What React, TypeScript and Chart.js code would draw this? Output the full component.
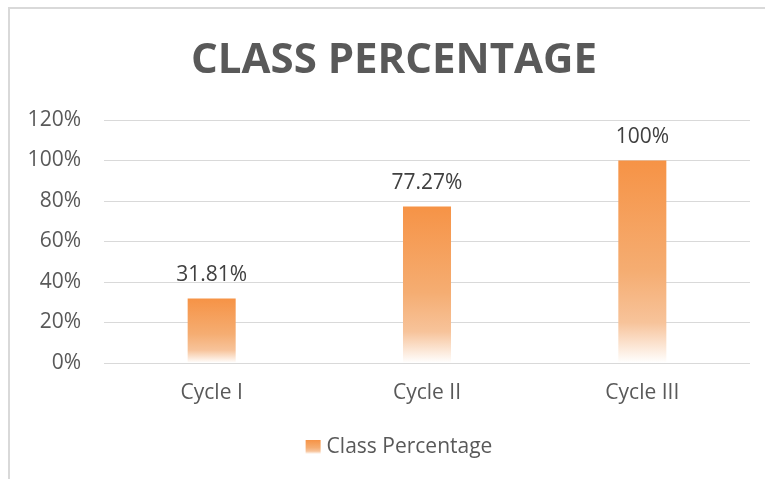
import React, { useEffect, useRef } from "react";
import { Chart, registerables } from "chart.js";

Chart.register(...registerables);

const categories = ["Cycle I", "Cycle II", "Cycle III"];
const classPercentage = [31.81, 77.27, 100];
const seriesName = "Class Percentage";
const chartTitle = "CLASS PERCENTAGE";
const yTicks = [0, 20, 40, 60, 80, 100, 120];

const FONT = "'Open Sans', sans-serif";
const TEXT = "#595959";

function makeGradient(ctx: CanvasRenderingContext2D, top: number, bottom: number) {
  const g = ctx.createLinearGradient(0, top, 0, bottom);
  g.addColorStop(0, "#F69346");
  g.addColorStop(0.55, "#F5AD72");
  g.addColorStop(0.8, "#F7C39A");
  g.addColorStop(1, "#FFFFFF");
  return g;
}

export default function App() {
  const ref = useRef<HTMLCanvasElement | null>(null);

  useEffect(() => {
    document.body.style.margin = "0";
    const canvas = ref.current!;

    const decorPlugin = {
      id: "decor",
      afterDraw(chart: any) {
        const ctx = chart.ctx;
        ctx.save();
        // title
        ctx.font = `bold 42px ${FONT}`;
        ctx.fillStyle = TEXT;
        ctx.textAlign = "center";
        ctx.textBaseline = "alphabetic";
        ctx.fillText(chartTitle, 394, 73);
        // legend
        ctx.font = `21px ${FONT}`;
        const tw = ctx.measureText(seriesName).width;
        const boxW = 15;
        const gap = 6;
        const total = boxW + gap + tw;
        const x0 = 399 - total / 2;
        ctx.fillStyle = makeGradient(ctx, 440, 454);
        ctx.fillRect(x0, 440, boxW, 14);
        ctx.fillStyle = TEXT;
        ctx.textAlign = "left";
        ctx.textBaseline = "middle";
        ctx.fillText(seriesName, x0 + boxW + gap, 447);
        ctx.restore();
      },
      afterDatasetsDraw(chart: any) {
        const ctx = chart.ctx;
        const meta = chart.getDatasetMeta(0);
        ctx.save();
        ctx.font = `21px ${FONT}`;
        ctx.fillStyle = "#404040";
        ctx.textAlign = "center";
        ctx.textBaseline = "alphabetic";
        meta.data.forEach((bar: any, i: number) => {
          ctx.fillText(`${classPercentage[i]}%`, bar.x, bar.y - 18);
        });
        ctx.restore();
      },
    };

    const chart = new Chart(canvas, {
      type: "bar",
      data: {
        labels: categories,
        datasets: [
          {
            label: seriesName,
            data: classPercentage,
            backgroundColor: (c: any) => {
              const ch = c.chart;
              if (!ch.chartArea || c.parsed == null || c.type !== "data") return "#F79646";
              const y = ch.scales.y;
              const top = y.getPixelForValue(c.parsed.y);
              const bottom = y.getPixelForValue(0);
              return makeGradient(ch.ctx, top, bottom);
            },
            borderWidth: 0,
            categoryPercentage: 1,
            barPercentage: 0.223,
          },
        ],
      },
      options: {
        animation: false,
        responsive: false,
        maintainAspectRatio: false,
        layout: { padding: { left: 10, right: 15, top: 120, bottom: 51.5 } },
        plugins: {
          title: { display: false },
          legend: { display: false },
          tooltip: { enabled: false },
        },
        scales: {
          x: {
            grid: { display: false, drawTicks: false },
            border: { display: false },
            ticks: { color: TEXT, font: { family: FONT, size: 21 }, padding: 17 },
            afterFit: (s: any) => {
              s.height = 64.5;
            },
          },
          y: {
            min: 0,
            max: 120,
            afterBuildTicks: (s: any) => {
              s.ticks = yTicks.map((v) => ({ value: v }));
            },
            grid: { color: "#D9D9D9", lineWidth: 1, drawTicks: false },
            border: { display: false },
            ticks: {
              color: TEXT,
              font: { family: FONT, size: 21 },
              padding: 23,
              callback: (v: any) => `${v}%`,
            },
            afterFit: (s: any) => {
              s.width = 94;
            },
          },
        },
      },
      plugins: [decorPlugin],
    });

    return () => chart.destroy();
  }, []);

  return (
    <div style={{ position: "relative", width: 765, height: 479, background: "#fff", overflow: "hidden" }}>
      <div
        style={{
          position: "absolute",
          left: 8,
          top: 7,
          width: 800,
          height: 500,
          borderTop: "2px solid #D9D9D9",
          borderLeft: "2px solid #D9D9D9",
        }}
      />
      <canvas ref={ref} width={765} height={479} style={{ position: "absolute", left: 0, top: 0, width: 765, height: 479 }} />
    </div>
  );
}
